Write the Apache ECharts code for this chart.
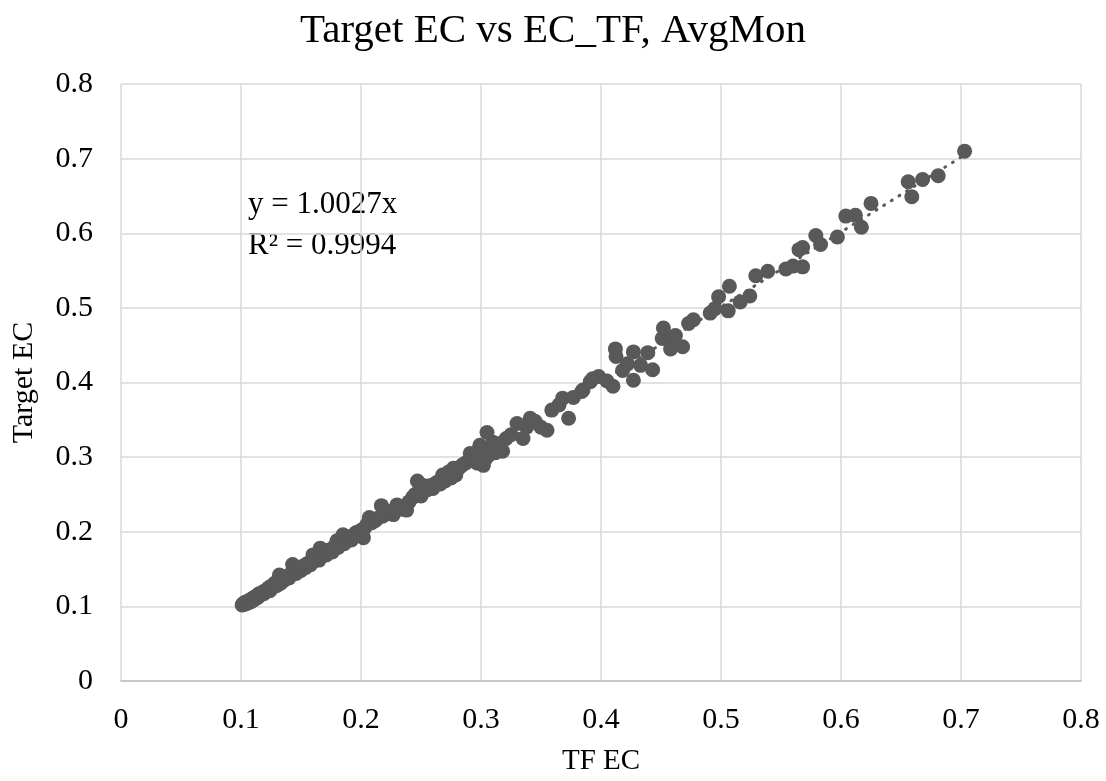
<!DOCTYPE html>
<html>
<head>
<meta charset="utf-8">
<title>Target EC vs EC_TF</title>
<script src="https://cdn.jsdelivr.net/npm/echarts@6/dist/echarts.min.js"></script>
<style>
    html, body { margin: 0; padding: 0; background: #fff; }
    #chart { width: 1106px; height: 781px; }
</style>
</head>
<body>
<div id="chart"></div>
<script>
// TF EC values (x)
var tfEc = [
    0.101, 0.102, 0.103, 0.104, 0.105, 0.106, 0.107, 0.108, 0.109, 0.110,
    0.111, 0.112, 0.113, 0.114, 0.115, 0.116, 0.118, 0.119, 0.120, 0.122,
    0.123, 0.124, 0.125, 0.127, 0.128, 0.130, 0.131, 0.132, 0.133, 0.135,
    0.136, 0.138, 0.140, 0.141, 0.143, 0.144, 0.146, 0.147, 0.149, 0.150,
    0.152, 0.154, 0.155, 0.157, 0.158, 0.160, 0.161, 0.163, 0.165, 0.166,
    0.167, 0.169, 0.171, 0.172, 0.174, 0.176, 0.178, 0.180, 0.181, 0.183,
    0.185, 0.186, 0.188, 0.190, 0.192, 0.194, 0.196, 0.198, 0.200, 0.202,
    0.203, 0.205, 0.207, 0.209, 0.212, 0.214, 0.217, 0.218, 0.221, 0.224,
    0.227, 0.230, 0.232, 0.235, 0.238, 0.240, 0.243, 0.245, 0.247, 0.248,
    0.250, 0.252, 0.255, 0.258, 0.260, 0.263, 0.266, 0.268, 0.270, 0.273,
    0.275, 0.277, 0.279, 0.282, 0.285, 0.288, 0.291, 0.293, 0.295, 0.297,
    0.299, 0.300, 0.302, 0.303, 0.304, 0.305, 0.306, 0.308, 0.310, 0.312,
    0.315, 0.318, 0.321, 0.325, 0.330, 0.335, 0.338, 0.341, 0.345, 0.350,
    0.355, 0.359, 0.365, 0.368, 0.373, 0.377, 0.384, 0.385, 0.391, 0.393,
    0.398, 0.405, 0.410, 0.412, 0.4125, 0.418, 0.422, 0.427, 0.427, 0.433,
    0.439, 0.443, 0.451, 0.452, 0.458, 0.458, 0.462, 0.468, 0.473, 0.477,
    0.491, 0.495, 0.498, 0.506, 0.507, 0.516, 0.524, 0.529, 0.539, 0.554,
    0.560, 0.568, 0.565, 0.568, 0.579, 0.583, 0.597, 0.604, 0.612, 0.617,
    0.625, 0.656, 0.659, 0.668, 0.681, 0.703
];

// Target EC values (y)
var targetEc = [
    0.102, 0.104, 0.103, 0.106, 0.104, 0.107, 0.108, 0.106, 0.110, 0.111,
    0.109, 0.113, 0.114, 0.112, 0.117, 0.115, 0.119, 0.117, 0.121, 0.121,
    0.125, 0.121, 0.127, 0.126, 0.131, 0.128, 0.133, 0.142, 0.131, 0.137,
    0.135, 0.140, 0.138, 0.143, 0.156, 0.145, 0.144, 0.149, 0.151, 0.148,
    0.154, 0.152, 0.157, 0.158, 0.156, 0.169, 0.161, 0.165, 0.162, 0.178,
    0.168, 0.171, 0.169, 0.174, 0.176, 0.173, 0.180, 0.188, 0.179, 0.185,
    0.196, 0.184, 0.190, 0.192, 0.189, 0.196, 0.199, 0.195, 0.202, 0.192,
    0.205, 0.210, 0.219, 0.212, 0.215, 0.218, 0.235, 0.221, 0.224, 0.227,
    0.223, 0.236, 0.232, 0.230, 0.229, 0.240, 0.246, 0.250, 0.268, 0.253,
    0.248, 0.262, 0.256, 0.262, 0.258, 0.266, 0.264, 0.276, 0.268, 0.280,
    0.272, 0.285, 0.276, 0.286, 0.290, 0.293, 0.305, 0.297, 0.300, 0.292,
    0.316, 0.305, 0.289, 0.310, 0.298, 0.333, 0.302, 0.315, 0.320, 0.306,
    0.318, 0.308, 0.325, 0.330, 0.345, 0.325, 0.340, 0.352, 0.348, 0.340,
    0.336, 0.363, 0.370, 0.379, 0.352, 0.380, 0.388, 0.390, 0.401, 0.405,
    0.408, 0.402, 0.395, 0.445, 0.435, 0.416, 0.425, 0.441, 0.403, 0.423,
    0.440, 0.417, 0.459, 0.473, 0.459, 0.445, 0.463, 0.448, 0.479, 0.484,
    0.493, 0.499, 0.515, 0.496, 0.529, 0.508, 0.516, 0.543, 0.549, 0.552,
    0.556, 0.555, 0.578, 0.581, 0.597, 0.585, 0.595, 0.623, 0.624, 0.608,
    0.640, 0.669, 0.649, 0.672, 0.677, 0.710
];

// trendline through origin: y = 1.0027x, R² = 0.9994
var slope = 1.0027;
var trendLabel = ['y = 1.0027x', 'R² = 0.9994'];

var axisTicks = [0, 0.1, 0.2, 0.3, 0.4, 0.5, 0.6, 0.7, 0.8];

(function () {
    var myChart = echarts.init(document.getElementById('chart'));

    var points = [];
    for (var i = 0; i < tfEc.length; i++) {
        points.push([tfEc[i], targetEc[i]]);
    }

    var xMin = Math.min.apply(null, tfEc);
    var xMax = Math.max.apply(null, tfEc);
    var trend = [[xMin, slope * xMin], [xMax, slope * xMax]];

    var font = '"Liberation Serif", "Times New Roman", serif';
    var gridColor = '#d9d9d9';
    var dark = '#595959';

    var option = {
        backgroundColor: '#fff',
        animation: false,
        title: {
            text: 'Target EC vs EC_TF, AvgMon',
            left: 'center',
            top: 6,
            textStyle: {
                fontFamily: font,
                fontSize: 41,
                fontWeight: 'normal',
                color: '#000'
            }
        },
        grid: {
            left: 121,
            right: 25,
            top: 84,
            bottom: 97,
            containLabel: false
        },
        xAxis: {
            type: 'value',
            min: axisTicks[0],
            max: axisTicks[axisTicks.length - 1],
            interval: 0.1,
            name: 'TF EC',
            nameLocation: 'middle',
            nameGap: 66,
            nameTextStyle: { fontFamily: font, fontSize: 29, color: '#000' },
            axisLine: { show: true, lineStyle: { color: '#bfbfbf', width: 1.5 } },
            axisTick: { show: false },
            axisLabel: {
                fontFamily: font,
                fontSize: 30,
                color: '#000',
                margin: 24,
                formatter: function (v) { return String(+v.toFixed(1)); }
            },
            splitLine: { show: true, lineStyle: { color: gridColor, width: 1.5 } }
        },
        yAxis: {
            type: 'value',
            min: axisTicks[0],
            max: axisTicks[axisTicks.length - 1],
            interval: 0.1,
            name: 'Target EC',
            nameLocation: 'middle',
            nameGap: 82,
            nameRotate: 90,
            nameTextStyle: { fontFamily: font, fontSize: 30, color: '#000' },
            axisLine: { show: false },
            axisTick: { show: false },
            axisLabel: {
                fontFamily: font,
                fontSize: 30,
                color: '#000',
                margin: 28,
                formatter: function (v) { return String(+v.toFixed(1)); }
            },
            splitLine: { show: true, lineStyle: { color: gridColor, width: 1.5 } }
        },
        graphic: [{
            type: 'text',
            left: 248,
            top: 184,
            style: {
                text: trendLabel.join('\n'),
                font: '31px ' + font,
                lineHeight: 41,
                fill: '#000'
            }
        }],
        series: [{
            name: 'AvgMon',
            type: 'scatter',
            symbol: 'circle',
            symbolSize: 15,
            itemStyle: { color: dark, opacity: 1 },
            data: points,
            z: 3
        }, {
            name: 'Linear',
            type: 'line',
            data: trend,
            symbol: 'none',
            lineStyle: { color: dark, width: 3, type: [1, 8], cap: 'round' },
            z: 4
        }]
    };
    myChart.setOption(option);
})();
</script>
</body>
</html>
